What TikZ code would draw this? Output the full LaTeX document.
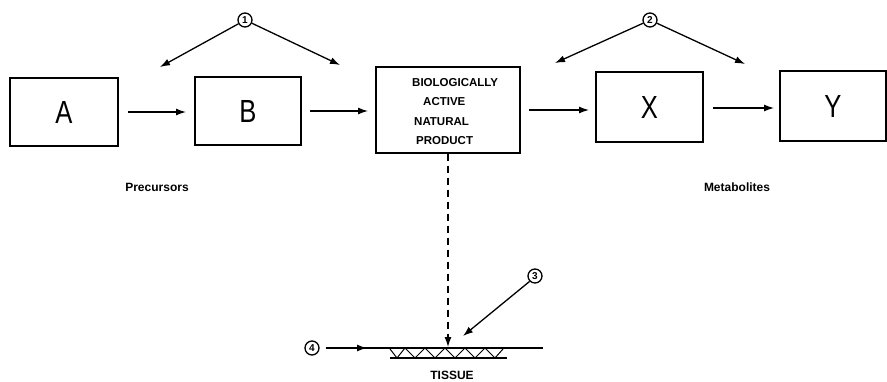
\documentclass[tikz,border=0pt]{standalone}
\usepackage{fontspec}
\usepackage{graphicx}
\setmainfont{Liberation Sans}
\usetikzlibrary{arrows.meta}
\newcommand{\bigletter}[1]{\scalebox{0.8}[1]{\fontsize{32}{32}\selectfont #1}}
\begin{document}
\begin{tikzpicture}[x=1pt,y=-1pt,
  box/.style={draw,line width=1.3pt,inner sep=0pt},
  lab/.style={font=\bfseries\fontsize{12}{12}\selectfont},
  num/.style={circle,draw,line width=1.3pt,inner sep=0pt,minimum size=14pt,font=\bfseries\fontsize{10}{10}\selectfont},
  arr/.style={line width=1.3pt,-{Latex[length=10pt,width=7pt]}}]
\useasboundingbox (0,0) rectangle (887,381);
% boxes
\node[box,minimum width=108pt,minimum height=68pt] (A) at (64,112) {\bigletter{A}};
\node[box,minimum width=106pt,minimum height=68pt] (B) at (248,111) {\bigletter{B}};
\node[box,minimum width=144pt,minimum height=86pt] (N) at (448,110) {};
\node[font=\bfseries\fontsize{11.5}{19.5}\selectfont,align=left,anchor=west,inner sep=0pt] (Nt) at (412,111.5)
  {BIOLOGICALLY\\\hspace*{11pt}ACTIVE\\\hspace*{2pt}NATURAL\\\hspace*{4pt}PRODUCT};
\node[box,minimum width=107pt,minimum height=70pt] (X) at (649.5,107) {\bigletter{X}};
\node[box,minimum width=106pt,minimum height=70pt] (Y) at (833,106) {\bigletter{Y}};
% main arrows
\coordinate (a1) at (128,112); \coordinate (a2) at (186,112);
\coordinate (b1) at (310,111); \coordinate (b2) at (368,111);
\coordinate (n1) at (529,110); \coordinate (n2) at (589,110);
\coordinate (x1) at (713,108); \coordinate (x2) at (774,108);
\draw[arr] (a1) -- (a2);
\draw[arr] (b1) -- (b2);
\draw[arr] (n1) -- (n2);
\draw[arr] (x1) -- (x2);
% numbered circles
\node[num] (c1) at (245,20) {1};
\node[num] (c2) at (650,20) {2};
\node[num] (c3) at (535,276) {3};
\node[num] (c4) at (312,348) {4};
\coordinate (p1) at (160,67); \coordinate (p2) at (340,65);
\coordinate (p3) at (555,63); \coordinate (p4) at (745,64);
\coordinate (p5) at (463,336);
\draw[arr] (c1.210) -- (p1);
\draw[arr] (c1.-25) -- (p2);
\draw[arr] (c2.205) -- (p3);
\draw[arr] (c2.-25) -- (p4);
\draw[arr] (c3.225) -- (p5);
% labels
\node[lab] (pre) at (157,187) {Precursors};
\node[lab] (met) at (737,187) {Metabolites};
\node[lab] (tis) at (452,375) {TISSUE};
% tissue
\coordinate (tm) at (367,348); \coordinate (t1) at (543,348);
\coordinate (tip) at (448,347);
\draw[line width=1.3pt,dash pattern=on 7pt off 5pt,-{Latex[length=10pt,width=7pt]}] (N.south) -- (tip);
\draw[line width=1.3pt] (c4.east) ++(6,0) -- (t1);
\draw[arr] (c4.east) ++(6,0) -- (tm);
\draw[line width=1.3pt] (390,358) -- (507,358);
\draw[line width=1pt] (390,349) -- (397,358) -- (405,348) -- (415,358) -- (425,348) -- (435,358) -- (445,348) -- (455,358) -- (465,348) -- (475,358) -- (485,348) -- (495,358) -- (503,349);
\end{tikzpicture}
\end{document}
